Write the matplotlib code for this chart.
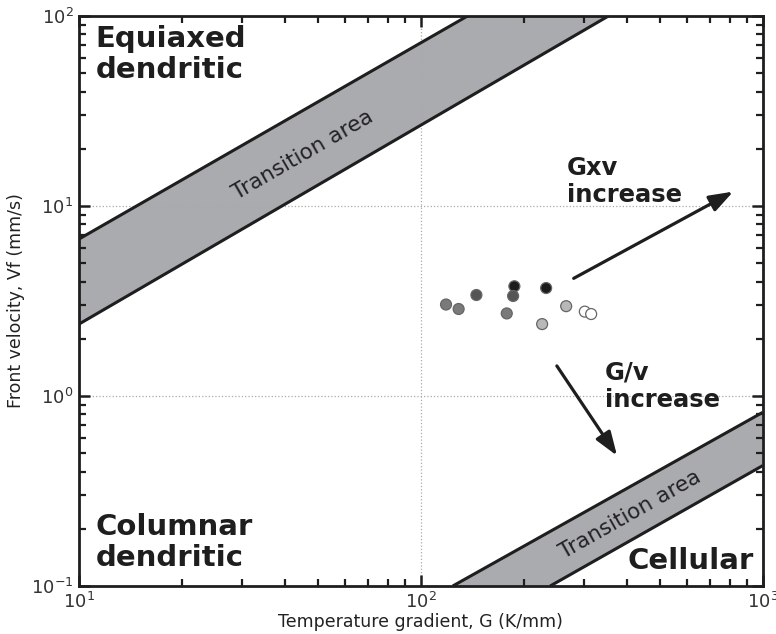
import matplotlib
matplotlib.use("Agg")
import matplotlib.pyplot as plt

# data
G_pts = [118.5, 129, 145.4, 187.8, 186.2, 178.4, 232.6, 266.2, 226.4, 301.8, 315]
V_pts = [3.03, 2.87, 3.40, 3.78, 3.36, 2.72, 3.70, 2.97, 2.39, 2.78, 2.70]
pt_colors = ['#7a7a7a', '#7a7a7a', '#555555', '#1c1c1c', '#555555', '#7a7a7a',
             '#1c1c1c', '#b8b8b8', '#b8b8b8', 'white', 'white']

# transition bands: boundary lines as (G, V) end points
band1_upper = [(10, 6.7), (137, 100)]
band1_lower = [(10, 2.39), (354, 100)]
band2_upper = [(124, 0.1), (1000, 0.82)]
band2_lower = [(239, 0.1), (1000, 0.43)]

# label anchors (G, V, angle) for the band texts
band_labels = [(45.3, 18.5, 30), (410, 0.239, 29.5)]

arrow_gxv = [(280, 4.16), (820, 11.9)]
arrow_gv = [(250, 1.44), (375, 0.485)]

ink = '#1e1e1e'
band_color = '#aaabaf'

fig = plt.figure(figsize=(7.76, 6.34), dpi=100)
ax = fig.add_axes([0.1018, 0.0757, 0.881, 0.8991])
ax.set_xscale('log')
ax.set_yscale('log')
ax.set_xlim(10, 1000)
ax.set_ylim(0.1, 100)

ax.grid(True, which='major', linestyle=':', color='#aaaaaa', linewidth=0.9, zorder=0)

for up, lo in [(band1_upper, band1_lower), (band2_upper, band2_lower)]:
    poly = up + lo[::-1]
    ax.fill([p[0] for p in poly], [p[1] for p in poly], color=band_color, zorder=1, lw=0)
    for line in (up, lo):
        ax.plot([p[0] for p in line], [p[1] for p in line], color=ink, lw=2.2, zorder=2,
                solid_capstyle='butt')

ax.scatter(G_pts, V_pts, s=62, c=pt_colors, edgecolors='#666666', linewidths=0.9, zorder=4)

for a in (arrow_gxv, arrow_gv):
    ax.annotate('', xy=a[1], xytext=a[0],
                arrowprops=dict(arrowstyle='-|>,head_length=0.9,head_width=0.32',
                                color=ink, lw=2.3, mutation_scale=16, shrinkA=0, shrinkB=0),
                zorder=5)

big = dict(fontsize=21, fontweight='bold', color=ink, linespacing=1.15)
ax.text(0.024, 0.985, 'Equiaxed\ndendritic', transform=ax.transAxes, ha='left', va='top', **big)
ax.text(0.024, 0.024, 'Columnar\ndendritic', transform=ax.transAxes, ha='left', va='bottom', **big)
ax.text(0.987, 0.02, 'Cellular', transform=ax.transAxes, ha='right', va='bottom', **big)

mid = dict(fontsize=17.5, fontweight='bold', color=ink, linespacing=1.2)
ax.text(0.714, 0.755, 'Gxv\nincrease', transform=ax.transAxes, ha='left', va='top', **mid)
ax.text(0.769, 0.396, 'G/v\nincrease', transform=ax.transAxes, ha='left', va='top', **mid)

for g, v, rot in band_labels:
    ax.text(g, v, 'Transition area', fontsize=15.5, color='#222222', rotation=rot,
            rotation_mode='anchor', ha='center', va='center', zorder=3)

ax.set_xlabel('Temperature gradient, G (K/mm)', fontsize=12.5, color='#222222', labelpad=1)
ax.set_ylabel('Front velocity, Vf (mm/s)', fontsize=12.5, color='#222222', labelpad=4)

for s in ax.spines.values():
    s.set_linewidth(2.0)
    s.set_color(ink)
ax.tick_params(which='both', direction='in', top=True, right=True, color=ink,
               labelsize=13, labelcolor='#333333')
ax.tick_params(which='major', length=8, width=1.8, pad=4)
ax.tick_params(which='minor', length=5, width=1.6)

fig.savefig('out.png', dpi=100)
